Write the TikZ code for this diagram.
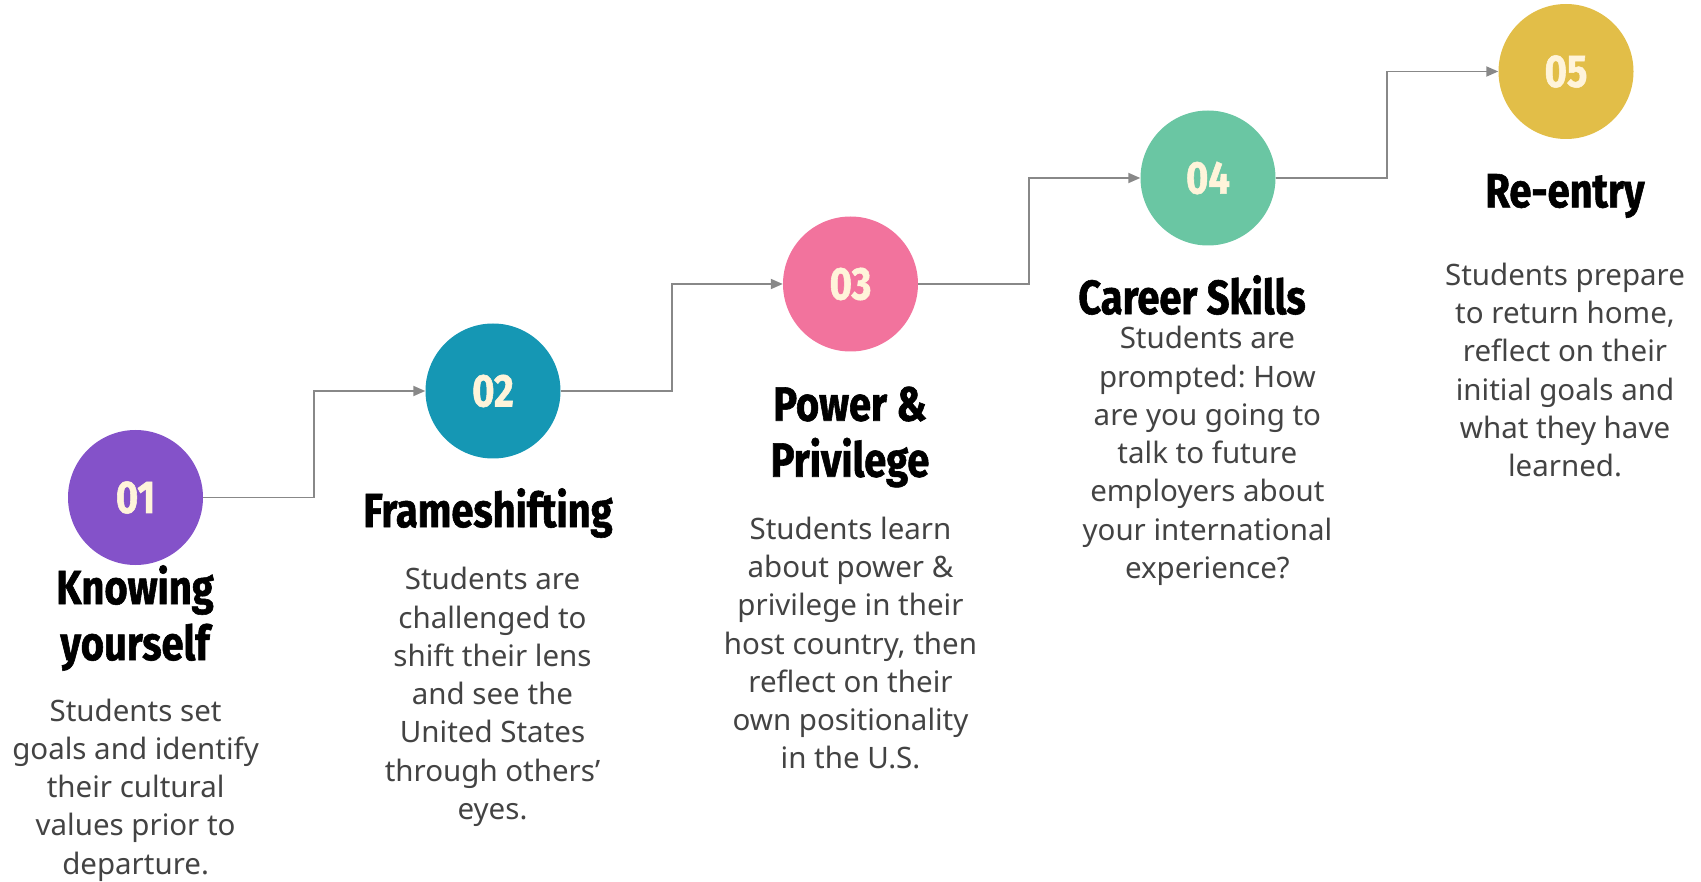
\documentclass[tikz,border=0pt]{standalone}
\usepackage{fontspec}
\usetikzlibrary{calc,arrows.meta}
\frenchspacing
\newfontfamily\headfont[FakeStretch=0.83,FakeBold=1.2]{Fira Sans}
\newfontfamily\bodyfont{Noto Sans}
\definecolor{cpurple}{HTML}{8452C9}
\definecolor{cteal}{HTML}{1597B4}
\definecolor{cpink}{HTML}{F2739D}
\definecolor{cgreen}{HTML}{6AC6A3}
\definecolor{cyellow}{HTML}{E2BE48}
\definecolor{cream}{HTML}{FFF4DA}
\definecolor{linegray}{HTML}{888888}
\definecolor{bodygray}{HTML}{434343}
\tikzset{
  stepcircle/.style={circle, minimum size=135pt, inner sep=0pt, text=cream,
    font={\headfont\bfseries\fontsize{46}{50}\selectfont}},
  heading/.style={align=center, inner sep=0pt, text=black,
    font={\headfont\bfseries\fontsize{48}{56}\selectfont}},
  body/.style={align=center, inner sep=0pt, text=bodygray,
    font={\bodyfont\fontsize{29.5}{38.3}\selectfont}},
  conn/.style={draw=linegray, line width=1.8pt, -{Triangle[length=12pt,width=10pt]}}
}
\begin{document}
\begin{tikzpicture}[x=1pt,y=-1pt]
\useasboundingbox (0,0) rectangle (1701,882);
\node[stepcircle, fill=cpurple] (c1) at (135.5,497.5) {01};
\node[stepcircle, fill=cteal]   (c2) at (493,391) {02};
\node[stepcircle, fill=cpink]   (c3) at (850.5,284) {03};
\node[stepcircle, fill=cgreen]  (c4) at (1208,178) {04};
\node[stepcircle, fill=cyellow] (c5) at (1566,71.5) {05};

\draw[conn] (c1.east) -| ($(c1.east)!0.5!(c2.west)$) |- (c2.west);
\draw[conn] (c2.east) -| ($(c2.east)!0.5!(c3.west)$) |- (c3.west);
\draw[conn] (c3.east) -| ($(c3.east)!0.5!(c4.west)$) |- (c4.west);
\draw[conn] (c4.east) -| ($(c4.east)!0.5!(c5.west)$) |- (c5.west);

\node[heading] (h1) at (135,618) {Knowing\\yourself};
\node[heading] (h2) at (488,513) {Frameshifting};
\node[heading] (h3) at (850,437) {Power \&\\Privilege};
\node[heading] (h4) at (1192,295) {Career Skills};
\node[heading] (h5) at (1565,196) {Re-entry};

\node[body] (b1) at (135.6,790) {Students set\\goals and identify\\their cultural\\values prior to\\departure.};
\node[body] (b2) at (492.5,697) {Students are\\challenged to\\shift their lens\\and see the\\United States\\through others’\\eyes.};
\node[body] (b3) at (850.5,643) {Students learn\\about power \&\\privilege in their\\host country, then\\reflect on their\\own positionality\\in the U.S.};
\node[body] (b4) at (1207.4,456) {Students are\\prompted: How\\are you going to\\talk to future\\employers about\\your international\\experience?};
\node[body] (b5) at (1565,370) {Students prepare\\to return home,\\reflect on their\\initial goals and\\what they have\\learned.};
\end{tikzpicture}
\end{document}
